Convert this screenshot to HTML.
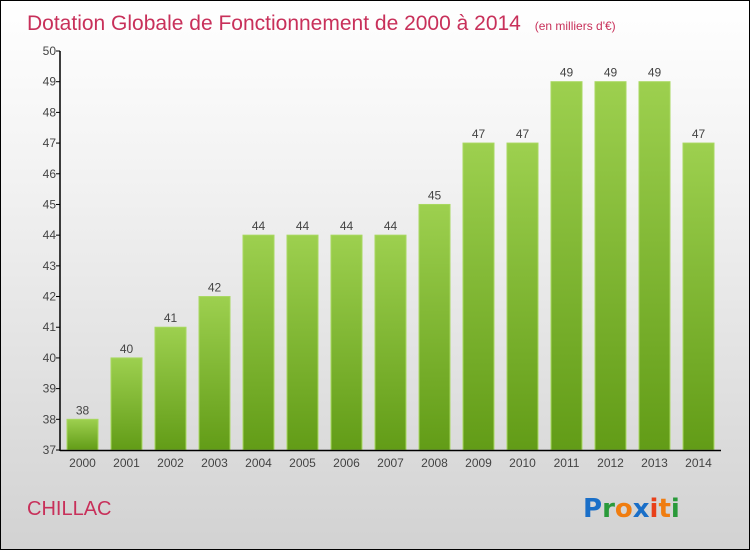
<!DOCTYPE html>
<html><head><meta charset="utf-8"><style>
body{margin:0}
#c{width:748px;height:548px;border:1px solid #000;background:linear-gradient(#fff 0%,#f3f3f3 30%,#d2d2d2 100%);position:relative;font-family:"Liberation Sans",sans-serif;overflow:hidden}
</style></head><body>
<div id="c">
<svg width="748" height="548" id="s">
<defs><linearGradient id="g" x1="0" y1="0" x2="0" y2="1"><stop offset="0" stop-color="#9dd04f"/><stop offset="1" stop-color="#629c17"/></linearGradient></defs>
<text x="26" y="29" font-size="21" fill="#c8305a">Dotation Globale de Fonctionnement de 2000 à 2014 <tspan font-size="12" dx="8">(en milliers d'€)</tspan></text>
<text x="26" y="514" font-size="20" fill="#c8305a">CHILLAC</text>
<g font-size="26" font-weight="bold" font-family="'DejaVu Sans',sans-serif">
<text x="582" y="516"><tspan fill="#1a6fc8">P</tspan><tspan fill="#2a9a3a">r</tspan><tspan fill="#f07d10">o</tspan><tspan fill="#1a6fc8">x</tspan><tspan fill="#e8401a">i</tspan><tspan fill="#f07d10">t</tspan><tspan fill="#2a9a3a">i</tspan></text></g>
<g id="plot"></g>
</svg></div>
<script>
const years=["2000","2001","2002","2003","2004","2005","2006","2007","2008","2009","2010","2011","2012","2013","2014"];
const values=[38,40,41,42,44,44,44,44,45,47,47,49,49,49,47];
const yTicks=[37,38,39,40,41,42,43,44,45,46,47,48,49,50];
const yMin=37,yMax=50,plotTop=50,plotBot=449,plotLeft=59;
const yS=v=>plotBot-(v-yMin)/(yMax-yMin)*(plotBot-plotTop);
const xS=i=>81+i*44;
const g=document.getElementById('plot');
const NS="http://www.w3.org/2000/svg";
function mk(t,a){const e=document.createElementNS(NS,t);for(const k in a)e.setAttribute(k,a[k]);g.appendChild(e);return e;}
values.forEach((v,i)=>{
 const r=mk('rect',{x:xS(i)-15,y:yS(v),width:31,height:plotBot-yS(v),fill:'url(#g)',stroke:'#a8d860','stroke-width':1});
 
 
 const t=mk('text',{x:xS(i)+0.5,y:yS(v)-5,'font-size':12,fill:'#444','text-anchor':'middle'});t.textContent=v;
 
 
 const l=mk('text',{x:xS(i)+0.5,y:466,'font-size':12,fill:'#444','text-anchor':'middle'});l.textContent=years[i];
 
 
});
yTicks.forEach(v=>{
 const tk=mk('line',{x1:plotLeft-4,x2:plotLeft,y1:yS(v),y2:yS(v),stroke:'#000'});
 
 
 const t=mk('text',{x:plotLeft-4,y:yS(v)+4,'font-size':12,fill:'#444','text-anchor':'end'});t.textContent=v;
 
 
});
const ya=mk('line',{x1:plotLeft,x2:plotLeft,y1:plotTop,y2:plotBot+1,stroke:'#000','stroke-width':1.5});


const xa=mk('line',{x1:plotLeft,x2:720,y1:plotBot+0.5,y2:plotBot+0.5,stroke:'#000','stroke-width':1.5});


</script>
</body></html>
